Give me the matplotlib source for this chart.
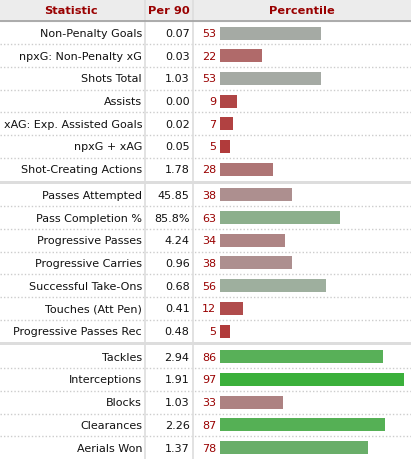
import matplotlib
matplotlib.use("Agg")
import matplotlib.pyplot as plt

# Datos de la tabla
stats = [
    "Non-Penalty Goals", "npxG: Non-Penalty xG", "Shots Total", "Assists",
    "xAG: Exp. Assisted Goals", "npxG + xAG", "Shot-Creating Actions",
    "Passes Attempted", "Pass Completion %", "Progressive Passes",
    "Progressive Carries", "Successful Take-Ons", "Touches (Att Pen)",
    "Progressive Passes Rec",
    "Tackles", "Interceptions", "Blocks", "Clearances", "Aerials Won",
]
per90 = [
    "0.07", "0.03", "1.03", "0.00", "0.02", "0.05", "1.78",
    "45.85", "85.8%", "4.24", "0.96", "0.68", "0.41", "0.48",
    "2.94", "1.91", "1.03", "2.26", "1.37",
]
percentile = [53, 22, 53, 9, 7, 5, 28,
              38, 63, 34, 38, 56, 12, 5,
              86, 97, 33, 87, 78]
group_sizes = [7, 7, 5]

bar_colors = [
    "#a5aaa4", "#b06a6a", "#a5aaa4", "#b04545", "#b14141", "#b13b3b", "#ae7575",
    "#ad8f8f", "#8caf8c", "#ae8585", "#ad8f8f", "#9eaf9e", "#b04c4c", "#b13b3b",
    "#58b058", "#3bb03b", "#ad8282", "#55b055", "#69ae69",
]

# Geometría en píxeles
W, H = 411, 460
header_h = 22.65
row_h = 22.7
sep_h = 3.0
col1, col2 = 145, 193
bar_x0, bar_x1 = 220, 410
red = "#990000"
fs = 8.0

fig = plt.figure(figsize=(W / 100, H / 100), dpi=100)
ax = fig.add_axes([0, 0, 1, 1])
ax.set_xlim(0, W)
ax.set_ylim(H, 0)
ax.axis("off")

# Cabecera
ax.axhspan(0, header_h - 0.5, color="#ececec", zorder=0)
ax.axhline(header_h - 0.5, color="#a0a0a0", lw=1.2, zorder=3)
for x, txt in [(71, "Statistic"), (169, "Per 90"), (302, "Percentile")]:
    ax.text(x, header_h / 2, txt, ha="center", va="center", fontsize=fs + 0.2,
            fontweight="bold", color=red)

# Filas
centers = []
y = header_h
for g, n in enumerate(group_sizes):
    for k in range(n):
        centers.append(y + row_h / 2)
        if k < n - 1:
            ax.plot([0, W], [y + row_h, y + row_h], color="#cccccc", lw=1,
                    linestyle=(0, (1, 1.5)), zorder=1)
        y += row_h
    if g < len(group_sizes) - 1:
        ax.axhspan(y, y + sep_h, color="#dddddd", zorder=1, lw=0)
        y += sep_h

ax.axvline(col1, color="#dddddd", lw=1.2, zorder=2)
ax.axvline(col2, color="#dddddd", lw=1.2, zorder=2)

for c, s, p, pct in zip(centers, stats, per90, percentile):
    ax.text(142, c, s, ha="right", va="center", fontsize=fs, color="#111111")
    ax.text(189.5, c, p, ha="right", va="center", fontsize=fs, color="#111111")
    ax.text(216, c, str(pct), ha="right", va="center", fontsize=fs, color=red)

# Barras de percentil en su propio eje 0-100
bx = fig.add_axes([bar_x0 / W, 0, (bar_x1 - bar_x0) / W, 1])
bx.set_xlim(0, 100)
bx.set_ylim(H, 0)
bx.axis("off")
bx.patch.set_alpha(0)
bx.barh(centers, percentile, height=13, color=bar_colors, left=0)

fig.savefig("out.png", dpi=100)
